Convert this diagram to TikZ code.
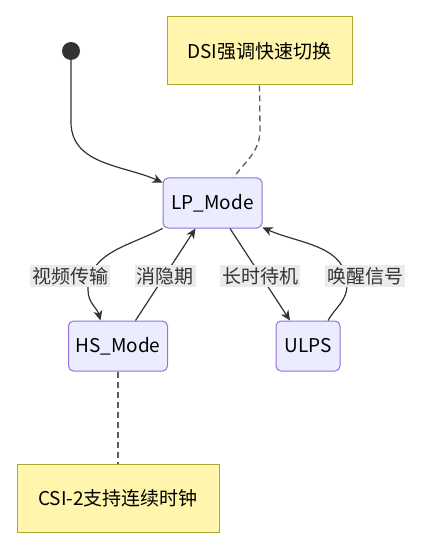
\documentclass[tikz,border=0pt]{standalone}
\usepackage{fontspec}
\setmainfont{Noto Sans CJK SC}
\usepackage{tikz}
\usepackage{xcolor}
\usetikzlibrary{arrows.meta,positioning}
\definecolor{stfill}{HTML}{ECECFF}
\definecolor{stline}{HTML}{9370DB}
\definecolor{notefill}{HTML}{FFF5AD}
\definecolor{noteline}{HTML}{AAAA33}
\definecolor{edgecol}{HTML}{333333}
\definecolor{lblfill}{HTML}{EBEBEB}

\begin{document}
\begin{tikzpicture}[x=1pt,y=1pt,
	every node/.style={font=\fontsize{19}{22}\selectfont, text=black},
	state/.style={draw=stline, fill=stfill, line width=1pt, rounded corners=5pt, minimum height=50pt, inner xsep=4pt},
	note/.style={draw=noteline, fill=notefill, line width=1pt, minimum height=68pt, inner xsep=4pt},
	edge/.style={draw=edgecol, line width=1.2pt, -{Stealth[length=10pt,width=9pt,inset=3pt]}},
	link/.style={draw=edgecol!80, line width=1.3pt, dash pattern=on 6pt off 4pt},
	lbl/.style={fill=lblfill, inner sep=2pt, text=edgecol}]
			\useasboundingbox (0,0) rectangle (437,-545);
			\node[circle, fill=edgecol, minimum size=18pt, inner sep=0pt] (start) at (71,-51) {};
			\node[note, minimum width=185pt] (dsi) at (259.5,-51) {DSI强调快速切换};
			\node[state, minimum width=99pt] (lp) at (212.5,-203) {LP\_Mode};
			\node[state, minimum width=99pt] (hs) at (118,-346) {HS\_Mode};
			\node[state, minimum width=64pt] (ulps) at (308,-346) {ULPS};
			\node[note, minimum width=202pt] (csi) at (118,-498) {CSI-2支持连续时钟};
			\draw[edge] (start) -- (71,-122) to[out=-90,in=156] ([yshift=-5pt]lp.north west);
			\draw[link] (dsi.south) -- (260,-130) to[out=-90,in=53] ([xshift=21pt]lp.north);
			\draw[edge] (lp.south west) to[out=208,in=90] (88,-290) to[out=-90,in=105] ([xshift=-17.5pt]hs.north);
			\draw[edge] ([xshift=17.5pt]hs.north) -- ([xshift=-17pt]lp.south);
			\draw[edge] ([xshift=17.5pt]lp.south) -- ([xshift=-18pt]ulps.north);
			\draw[edge] ([xshift=20pt]ulps.north) to[out=60,in=-90] (347,-285) to[out=90,in=-24] ([yshift=1pt]lp.south east);
			\draw[link] (hs) -- (csi);
			\node[lbl] (l1) at (70,-276) {视频传输};
			\node[lbl] (l2) at (165,-276) {消隐期};
			\node[lbl] (l3) at (260,-276) {长时待机};
			\node[lbl] (l4) at (365,-276) {唤醒信号};
		\end{tikzpicture}
\end{document}
